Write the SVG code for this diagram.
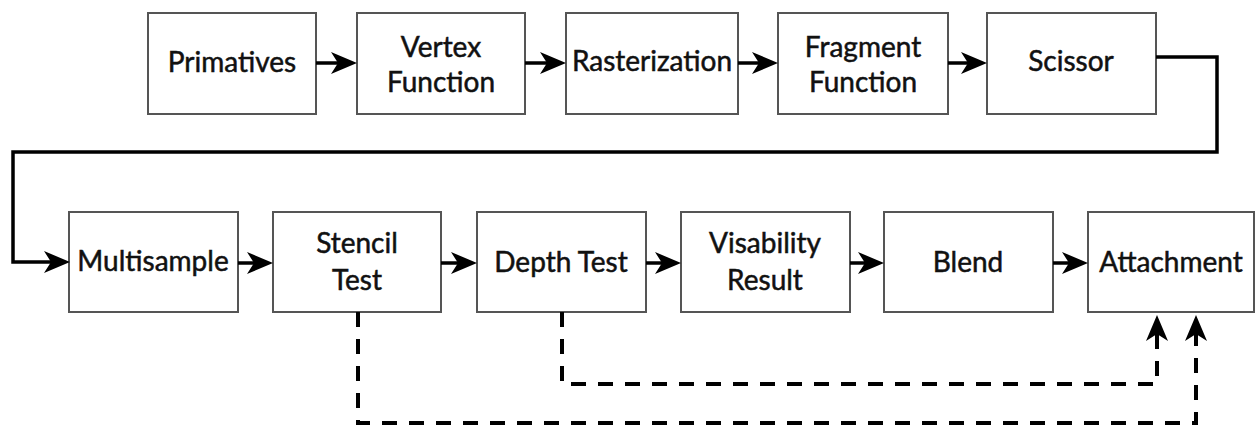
<svg xmlns="http://www.w3.org/2000/svg" width="1256" height="426" viewBox="0 0 1256 426">
<style>
.box{fill:#fff;stroke:#555;stroke-width:2}
.lbl{font-family:Lato,"Open Sans",sans-serif;font-size:28px;fill:#111;stroke:#111;stroke-width:0.5;text-anchor:middle}
.conn{fill:none;stroke:#000;stroke-width:3.5}
.dash{fill:none;stroke:#000;stroke-width:4;stroke-dasharray:15 12}
</style>
<defs>
<marker id="arr" markerUnits="userSpaceOnUse" markerWidth="30" markerHeight="26" refX="16" refY="11" orient="auto" overflow="visible">
<path d="M0,0 L26,11 L0,22 L7,11 Z" fill="#000"/>
</marker>
</defs>
<rect width="1256" height="426" fill="#fff"/>
<g id="primatives"><rect class="box" x="148" y="13" width="168" height="101"/><text class="lbl" x="232" y="72">Primatives</text></g>
<g id="vertex"><rect class="box" x="357" y="13" width="168" height="101"/><text class="lbl" x="441" y="57">Vertex</text><text class="lbl" x="441" y="92">Function</text></g>
<g id="raster"><rect class="box" x="566" y="13" width="172" height="101"/><text class="lbl" x="652" y="71">Rasterization</text></g>
<g id="fragment"><rect class="box" x="778" y="13" width="170" height="101"/><text class="lbl" x="863" y="57">Fragment</text><text class="lbl" x="863" y="92">Function</text></g>
<g id="scissor"><rect class="box" x="987" y="13" width="169" height="101"/><text class="lbl" x="1071" y="71">Scissor</text></g>
<g id="multisample"><rect class="box" x="69" y="212" width="169" height="100"/><text class="lbl" x="153" y="271">Multisample</text></g>
<g id="stencil"><rect class="box" x="273" y="212" width="168" height="100"/><text class="lbl" x="357" y="253">Stencil</text><text class="lbl" x="357" y="290">Test</text></g>
<g id="depth"><rect class="box" x="477" y="212" width="169" height="100"/><text class="lbl" x="561" y="272">Depth Test</text></g>
<g id="visability"><rect class="box" x="681" y="212" width="169" height="100"/><text class="lbl" x="765" y="253">Visability</text><text class="lbl" x="765" y="290">Result</text></g>
<g id="blend"><rect class="box" x="884" y="212" width="169" height="100"/><text class="lbl" x="968" y="272">Blend</text></g>
<g id="attachment"><rect class="box" x="1088" y="212" width="166" height="100"/><text class="lbl" x="1171" y="272">Attachment</text></g>
<g id="connectors">
<path class="conn" d="M316,63 H347" marker-end="url(#arr)"/>
<path class="conn" d="M525,63 H556" marker-end="url(#arr)"/>
<path class="conn" d="M738,63 H768" marker-end="url(#arr)"/>
<path class="conn" d="M948,63 H977" marker-end="url(#arr)"/>
<path class="conn" d="M1156,57 H1217 V152 H13 V262 H60" marker-end="url(#arr)"/>
<path class="conn" d="M238,263 H263" marker-end="url(#arr)"/>
<path class="conn" d="M441,263 H467" marker-end="url(#arr)"/>
<path class="conn" d="M646,263 H671" marker-end="url(#arr)"/>
<path class="conn" d="M850,263 H874" marker-end="url(#arr)"/>
<path class="conn" d="M1053,263 H1078" marker-end="url(#arr)"/>
<path class="dash" d="M358,312 V423 H1196 V325" marker-end="url(#arr)"/>
<path class="dash" d="M562,312 V384 H1157 V325" marker-end="url(#arr)"/>
</g>
</svg>
